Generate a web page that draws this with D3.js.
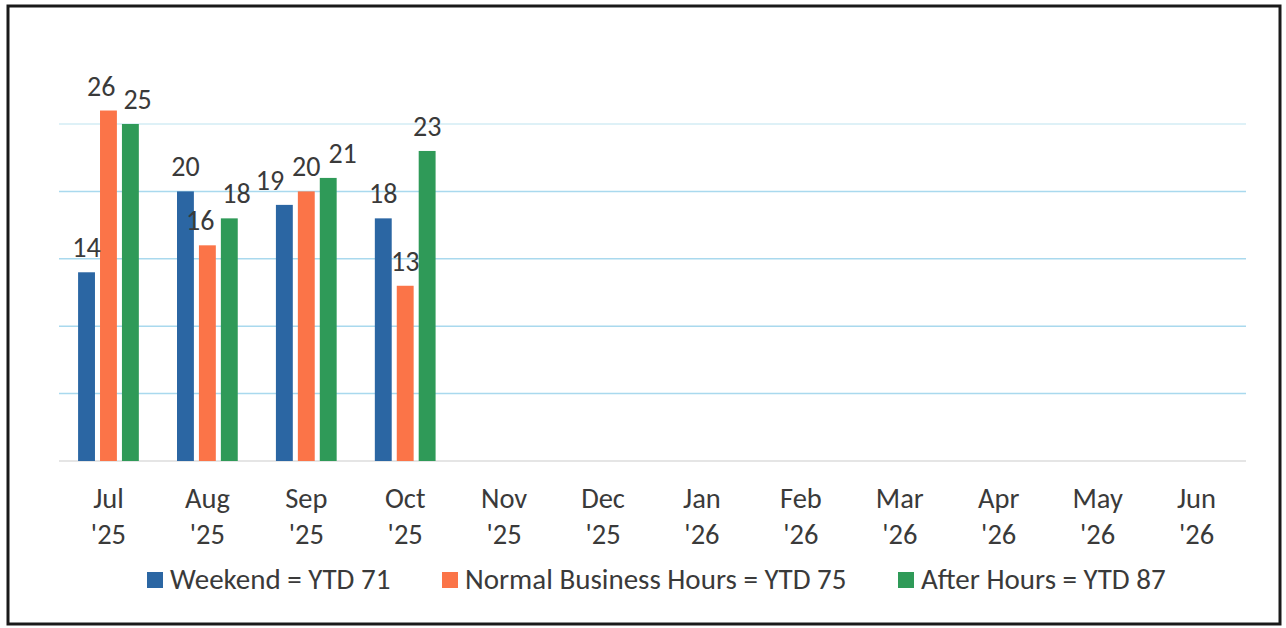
<!DOCTYPE html>
<html>
<head>
<meta charset="utf-8">
<script src="https://cdn.jsdelivr.net/npm/d3@7"></script>
<style>
  body { margin: 0; background: #fff; }
  text { font-family: Carlito, Lato, "Open Sans", sans-serif; fill: #3a3a3a; }
</style>
</head>
<body>
<div id="chart"></div>
<script>
// month categories (two-line tick labels)
var months = ["Jul", "Aug", "Sep", "Oct", "Nov", "Dec", "Jan", "Feb", "Mar", "Apr", "May", "Jun"];
var years = ["'25", "'25", "'25", "'25", "'25", "'25", "'26", "'26", "'26", "'26", "'26", "'26"];

// series values (only Jul-Oct reported so far)
var weekend = [14, 20, 19, 18];
var normalHours = [26, 16, 20, 13];
var afterHours = [25, 18, 21, 23];

var seriesNames = ["Weekend = YTD 71", "Normal Business Hours = YTD 75", "After Hours = YTD 87"];
var seriesColors = ["#2b66a3", "#fb7448", "#2f9a58"];
var gridTicks = [5, 10, 15, 20, 25];

var width = 1286;
var height = 628;

var svg = d3.select("#chart")
  .append("svg")
  .attr("width", width)
  .attr("height", height);

// outer frame
svg.append("rect")
  .attr("x", 8)
  .attr("y", 6)
  .attr("width", 1272)
  .attr("height", 618)
  .attr("fill", "none")
  .attr("stroke", "#1a1a1a")
  .attr("stroke-width", 3);

var x0 = d3.scaleBand()
  .domain(months)
  .range([59, 1246]);

var x1 = d3.scaleBand()
  .domain([0, 1, 2])
  .range([0, x0.bandwidth()])
  .paddingInner(0.23)
  .paddingOuter(0.87);

var y = d3.scaleLinear()
  .domain([0, 30])
  .range([461, 56.6]);

// gridlines
svg.append("g")
  .selectAll("line")
  .data(gridTicks)
  .enter()
  .append("line")
  .attr("x1", 59)
  .attr("x2", 1246)
  .attr("y1", function(d) { return y(d); })
  .attr("y2", function(d) { return y(d); })
  .attr("stroke", function(d) { return d == 25 ? "#d3ecf5" : "#a9d9ee"; })
  .attr("stroke-width", 1.5);

// baseline
svg.append("line")
  .attr("x1", 59)
  .attr("x2", 1246)
  .attr("y1", y(0))
  .attr("y2", y(0))
  .attr("stroke", "#dcdcdc")
  .attr("stroke-width", 1.5);

// build bar data from the series arrays
var allSeries = [weekend, normalHours, afterHours];
var barData = [];
allSeries.forEach(function(values, s) {
  values.forEach(function(v, i) {
    barData.push({ month: months[i], series: s, value: v });
  });
});

svg.append("g")
  .selectAll("rect")
  .data(barData)
  .enter()
  .append("rect")
  .attr("x", function(d) { return x0(d.month) + x1(d.series); })
  .attr("y", function(d) { return y(d.value); })
  .attr("width", x1.bandwidth())
  .attr("height", function(d) { return y(0) - y(d.value); })
  .attr("fill", function(d) { return seriesColors[d.series]; });

// value labels
var labels = svg.append("g")
  .selectAll("text")
  .data(barData)
  .enter()
  .append("text")
  .attr("x", function(d) { return x0(d.month) + x1(d.series) + x1.bandwidth() / 2; })
  .attr("y", function(d) { return y(d.value) - 15; })
  .attr("text-anchor", "middle")
  .style("font-size", "28px")
  .text(function(d) { return d.value; });

// nudge labels apart when neighbours in the same month collide
var minGap = 8;
var boxes = [];
labels.each(function(d) {
  boxes.push({ node: this, d: d, b: this.getBBox(), dx: 0 });
});
months.forEach(function(m) {
  var row = boxes.filter(function(o) { return o.d.month == m; })
    .sort(function(a, b) { return a.d.series - b.d.series; });
  for (var pass = 0; pass < 10; pass++) {
    for (var i = 0; i < row.length - 1; i++) {
      var a = row[i], b = row[i + 1];
      var vOverlap = a.b.y < b.b.y + b.b.height - 4 && b.b.y < a.b.y + a.b.height - 4;
      var gap = (b.b.x + b.dx) - (a.b.x + a.b.width + a.dx);
      if (vOverlap && gap < minGap - 0.1) {
        var shift = (minGap - gap) / 2;
        a.dx -= shift;
        b.dx += shift;
      }
    }
  }
});
boxes.forEach(function(o) {
  if (o.dx) d3.select(o.node).attr("transform", "translate(" + o.dx + ",0)");
});

// x axis labels, two lines each
var xLabels = svg.append("g")
  .selectAll("text")
  .data(months)
  .enter()
  .append("text")
  .attr("x", function(d) { return x0(d) + x0.bandwidth() / 2; })
  .attr("y", 508)
  .attr("text-anchor", "middle")
  .style("font-size", "28.5px");

xLabels.append("tspan")
  .attr("x", function(d) { return x0(d) + x0.bandwidth() / 2; })
  .text(function(d) { return d; });

xLabels.append("tspan")
  .attr("x", function(d) { return x0(d) + x0.bandwidth() / 2; })
  .attr("dy", 36)
  .text(function(d, i) { return years[i]; });

// legend
var legendX = [147, 442, 898];
var legend = svg.append("g")
  .selectAll("g")
  .data(seriesNames)
  .enter()
  .append("g")
  .attr("transform", function(d, i) { return "translate(" + legendX[i] + ",572)"; });

legend.append("rect")
  .attr("width", 16)
  .attr("height", 16)
  .attr("fill", function(d, i) { return seriesColors[i]; });

legend.append("text")
  .attr("x", 23)
  .attr("y", 17)
  .style("font-size", "29px")
  .text(function(d) { return d; });
</script>
</body>
</html>
